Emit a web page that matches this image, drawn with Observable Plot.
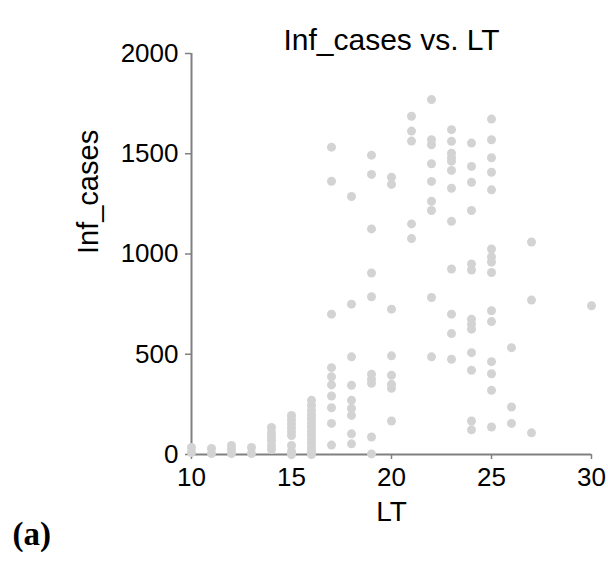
<!DOCTYPE html>
<html>
<head>
<meta charset="utf-8">
<script src="https://cdn.jsdelivr.net/npm/d3@7"></script>
<script src="https://cdn.jsdelivr.net/npm/@observablehq/plot@0.6"></script>
<style>
  html, body { margin: 0; padding: 0; background: #fff; }
  #chart svg { display: block; font-family: "Liberation Sans", Arial, sans-serif; }
  #chart svg [aria-label="y-axis tick"], #chart svg [aria-label="x-axis tick"] { stroke: #808080; stroke-width: 1.5px; }
</style>
</head>
<body>
<div id="chart"></div>
<script>
const chartTitle = "Inf_cases vs. LT";
const xLabel = "LT";
const yLabel = "Inf_cases";
const panelLabel = "(a)";
const xTicks = [10, 15, 20, 25, 30];
const yTicks = [0, 500, 1000, 1500, 2000];

const LT = [
  10, 10,
  11, 11,
  12, 12, 12,
  13, 13,
  14, 14, 14, 14, 14, 14,
  15, 15, 15, 15, 15, 15, 15, 15, 15,
  16, 16, 16, 16, 16, 16, 16, 16, 16, 16, 16, 16, 16, 16, 16,
  17, 17, 17, 17, 17, 17, 17, 17, 17, 17,
  18, 18, 18, 18, 18, 18, 18, 18, 18,
  19, 19, 19, 19, 19, 19, 19, 19, 19, 19,
  20, 20, 20, 20, 20, 20, 20, 20,
  21, 21, 21, 21, 21,
  22, 22, 22, 22, 22, 22, 22, 22, 22,
  23, 23, 23, 23, 23, 23, 23, 23, 23, 23, 23, 23,
  24, 24, 24, 24, 24, 24, 24, 24, 24, 24, 24, 24, 24,
  25, 25, 25, 25, 25, 25, 25, 25, 25, 25, 25, 25, 25, 25, 25,
  26, 26, 26,
  27, 27, 27,
  30
];
const Inf_cases = [
  35, 10,
  30, 5,
  45, 25, 5,
  35, 5,
  135, 110, 90, 70, 45, 25,
  195, 175, 155, 135, 115, 95, 45, 15, 0,
  270, 245, 220, 200, 180, 160, 140, 120, 100, 80, 60, 40, 25, 10, 0,
  1533, 1363, 700, 433, 388, 347, 292, 233, 155, 47,
  1287, 750, 487, 345, 270, 230, 195, 103, 53,
  1493, 1397, 1125, 905, 787, 400, 375, 355, 87, 3,
  1383, 1347, 725, 492, 395, 350, 330, 167,
  1687, 1613, 1563, 1150, 1077,
  1770, 1570, 1545, 1450, 1362, 1263, 1217, 783, 487,
  1620, 1562, 1503, 1480, 1463, 1417, 1328, 1163, 925, 700, 603, 475,
  1553, 1437, 1358, 1217, 950, 920, 675, 650, 625, 508, 420, 167, 123,
  1673, 1570, 1480, 1408, 1320, 1025, 985, 960, 908, 717, 663, 463, 403, 320, 137,
  533, 237, 155,
  1060, 770, 108,
  742
];

const data = LT.map((lt, i) => ({LT: lt, Inf_cases: Inf_cases[i]}));

const chart = Plot.plot({
  width: 608,
  height: 562,
  marginLeft: 191,
  marginRight: 17,
  marginTop: 53,
  marginBottom: 108,
  style: {fontFamily: "Liberation Sans, Arial, sans-serif", background: "#fff"},
  x: {domain: [10, 30]},
  y: {domain: [0, 2000]},
  marks: [
    Plot.ruleY([0], {stroke: "#808080", strokeWidth: 2}),
    Plot.ruleX([10], {stroke: "#808080", strokeWidth: 2}),
    Plot.axisX({ticks: xTicks, tickSize: 5, tickPadding: 8, fontSize: 26, label: null, color: "black", tickFormat: "d"}),
    Plot.axisY({ticks: yTicks, tickSize: 6, tickPadding: 7, fontSize: 26, label: null, color: "black", tickFormat: "d"}),
    Plot.dot(data, {x: "LT", y: "Inf_cases", r: 4.5, fill: "#d3d3d3", stroke: "none"}),
    Plot.text([chartTitle], {frameAnchor: "top", dy: -25, fontSize: 30, fill: "black", text: d => d}),
    Plot.text([xLabel], {frameAnchor: "bottom", dy: 66, fontSize: 28, fill: "black", text: d => d}),
    Plot.text([yLabel], {frameAnchor: "left", dx: -103, rotate: -90, fontSize: 29, fill: "black", text: d => d}),
    Plot.text([panelLabel], {frameAnchor: "bottom-left", textAnchor: "start", dx: -179, dy: 90, fontSize: 33, fontWeight: "bold", fontFamily: "Liberation Serif, Times New Roman, serif", fill: "black", text: d => d})
  ]
});
document.getElementById("chart").appendChild(chart);
</script>
</body>
</html>
